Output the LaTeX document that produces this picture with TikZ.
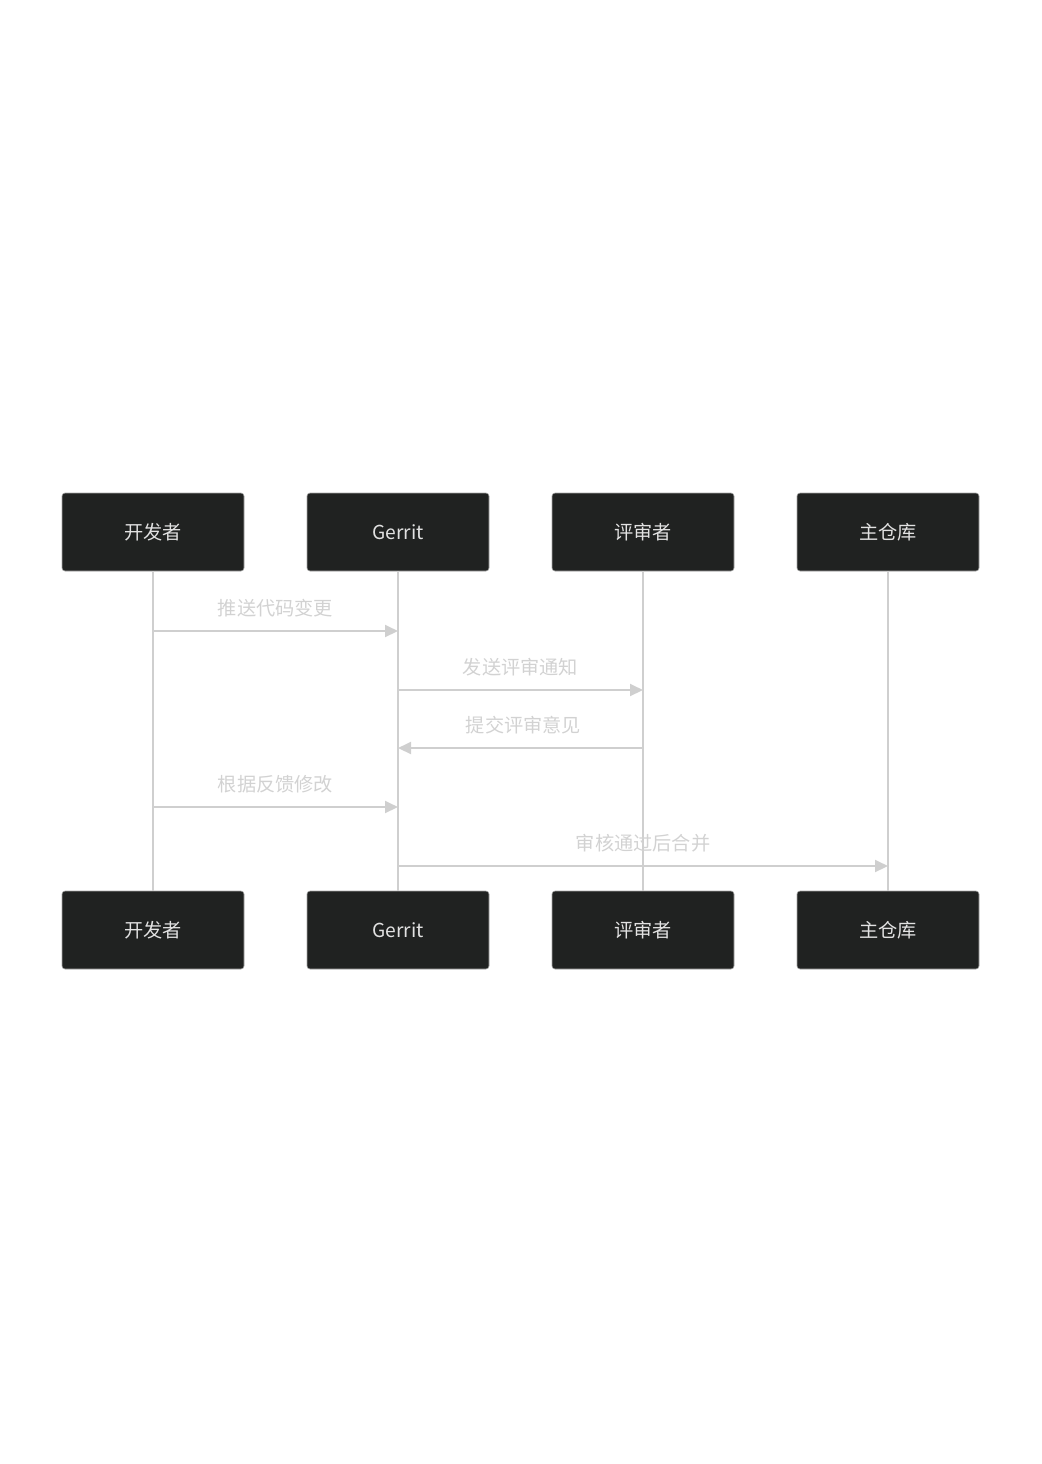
\documentclass[tikz,border=0pt]{standalone}
\usepackage{fontspec}
\setmainfont{Noto Sans CJK SC}
\usetikzlibrary{arrows.meta, positioning}
\definecolor{boxfill}{HTML}{202221}
\definecolor{boxtext}{HTML}{E2E2E2}
\definecolor{linegray}{HTML}{CFCFCF}
\definecolor{msgtext}{HTML}{D2D2D2}

\begin{document}
\begin{tikzpicture}[
    x=0.5pt, y=0.5pt,
    actornode/.style = {rectangle, rounded corners=1.5pt, fill=boxfill,
                        draw=gray!70, line width=0.3pt, text=boxtext,
                        minimum width=91pt, minimum height=39pt,
                        font=\fontsize{9.6pt}{11pt}\selectfont},
    lifeline/.style  = {draw=linegray, line width=1pt},
    message/.style   = {draw=linegray, line width=1pt,
                        -{Triangle[length=6.5pt,width=6pt]}},
    msglabel/.style  = {text=msgtext, font=\fontsize{9.6pt}{11pt}\selectfont},
]
    \useasboundingbox (0,0) rectangle (1042,-1464);

    %Nodes
    \foreach \name/\xpos/\label in {dev/153/开发者, gerrit/398/Gerrit,
                                    rev/643/评审者, repo/888/主仓库} {
        \node[actornode] (\name)  at (\xpos,-532) {\label};
        \node[actornode] (\name B) at (\xpos,-930) {\label};
    }

    %Lines
    \foreach \name in {dev, gerrit, rev, repo}
        \draw[lifeline] (\name.south) -- (\name B.north);

    \draw[message] (dev.south |- 0,-631) -- (gerrit.south |- 0,-631)
        node[msglabel, midway, above=3pt] {推送代码变更};
    \draw[message] (gerrit.south |- 0,-690) -- (rev.south |- 0,-690)
        node[msglabel, midway, above=3pt] {发送评审通知};
    \draw[message] (rev.south |- 0,-748) -- (gerrit.south |- 0,-748)
        node[msglabel, midway, above=3pt, xshift=1.5pt] {提交评审意见};
    \draw[message] (dev.south |- 0,-807) -- (gerrit.south |- 0,-807)
        node[msglabel, midway, above=3pt] {根据反馈修改};
    \draw[message] (gerrit.south |- 0,-866) -- (repo.south |- 0,-866)
        node[msglabel, midway, above=3pt] {审核通过后合并};
\end{tikzpicture}
\end{document}
